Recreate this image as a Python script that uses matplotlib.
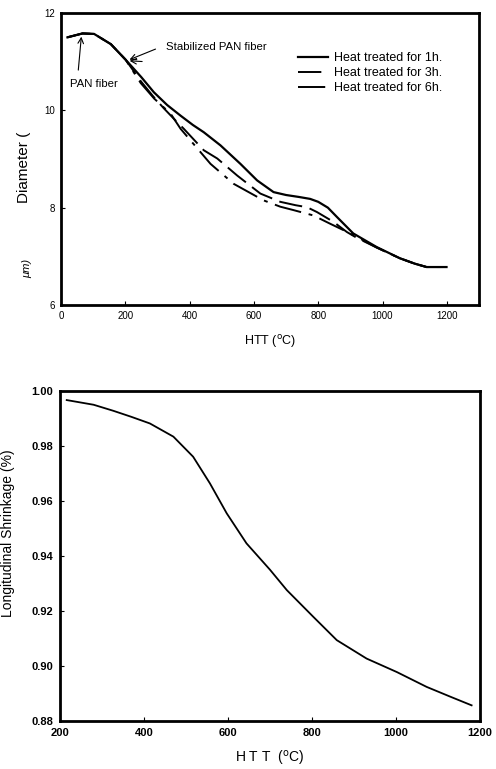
import numpy as np
import matplotlib
matplotlib.use("Agg")
import matplotlib.pyplot as plt

plt.rcParams['font.family'] = ['Liberation Sans', 'DejaVu Sans']
plt.rcParams['lines.solid_joinstyle'] = 'round'
plt.rcParams['lines.dash_joinstyle'] = 'round'

# --- top panel: fiber diameter vs HTT ---
htt_1h = [20, 67, 103, 155, 201, 250, 289, 330, 372, 410, 444, 496, 558, 610, 661, 700,
          740, 775, 800, 830, 858, 909, 982, 1054, 1100, 1137, 1199]
dia_1h = [11.50, 11.58, 11.57, 11.36, 11.04, 10.68, 10.37, 10.11, 9.89, 9.70, 9.55, 9.28,
          8.90, 8.56, 8.32, 8.26, 8.22, 8.18, 8.12, 8.00, 7.81, 7.47, 7.19, 6.96, 6.85, 6.78, 6.78]

htt_3h = [20, 67, 103, 155, 201, 248, 285, 320, 352, 382, 444, 486, 548, 620, 682, 730,
          765, 796, 847, 889, 920, 982, 1054, 1100, 1137, 1199]
dia_3h = [11.50, 11.58, 11.57, 11.36, 11.04, 10.60, 10.30, 10.04, 9.82, 9.62, 9.18, 9.01,
          8.66, 8.29, 8.12, 8.05, 8.01, 7.91, 7.71, 7.50, 7.38, 7.18, 6.96, 6.85, 6.78, 6.78]

htt_6h = [20, 67, 103, 155, 201, 248, 290, 341, 372, 403, 465, 537, 630, 682, 723, 785,
          837, 878, 920, 982, 1054, 1100, 1137, 1199]
dia_6h = [11.50, 11.58, 11.57, 11.36, 11.04, 10.56, 10.24, 9.93, 9.62, 9.38, 8.90, 8.49,
          8.15, 8.02, 7.95, 7.84, 7.67, 7.54, 7.40, 7.18, 6.96, 6.85, 6.78, 6.78]

legend_labels = ["Heat treated for 1h.", "Heat treated for 3h.", "Heat treated for 6h."]

# --- bottom panel: longitudinal shrinkage vs HTT ---
htt_s = [216, 280, 327, 370, 414, 470, 517, 557, 597, 644, 700, 740, 803, 859, 930, 1002,
         1073, 1130, 1180]
shrink = [0.9967, 0.9950, 0.9928, 0.9906, 0.9882, 0.9834, 0.9761, 0.9664, 0.9555, 0.9446,
          0.9350, 0.9276, 0.9179, 0.9094, 0.9027, 0.8978, 0.8924, 0.8888, 0.8857]

W, H = 496, 769
fig = plt.figure(figsize=(W / 100, H / 100), dpi=100)


def px_axes(l, t, r, b):
    return fig.add_axes([l / W, 1 - b / H, (r - l) / W, (b - t) / H])


ax1 = px_axes(61, 13, 479, 305)
ax1.plot(htt_1h, dia_1h, color='black', lw=1.6, ls='-', label=legend_labels[0])
ax1.plot(htt_3h, dia_3h, color='black', lw=1.4, ls=(0, (12, 4)), label=legend_labels[1])
ax1.plot(htt_6h, dia_6h, color='black', lw=1.4, ls=(0, (14, 4, 2, 4)), label=legend_labels[2])
ax1.set_xlim(0, 1300)
ax1.set_ylim(6, 12)
ax1.set_xticks([0, 200, 400, 600, 800, 1000, 1200])
ax1.set_yticks([6, 8, 10, 12])
ax1.tick_params(direction='in', labelsize=7, length=3, pad=4)
for s in ax1.spines.values():
    s.set_linewidth(2)
leg = ax1.legend(loc='upper left', bbox_to_anchor=(0.54, 0.905), frameon=False,
                 fontsize=9, handlelength=2.4, handletextpad=0.5, labelspacing=0.25)
ax1.set_xlabel("HTT ($^{\\mathrm{o}}$C)", fontsize=9, labelpad=9)

# arrows pointing at the stabilized fiber
ax1.annotate("", xy=(205, 11.02), xytext=(302, 11.28),
             arrowprops=dict(arrowstyle='->', lw=0.8, color='black'))
ax1.annotate("", xy=(205, 11.02), xytext=(261, 11.0),
             arrowprops=dict(arrowstyle='->', lw=0.8, color='black'))
ax1.text(327, 11.3, "Stabilized PAN fiber", fontsize=8.2, va='center', ha='left')
ax1.annotate("", xy=(64, 11.57), xytext=(53, 10.77),
             arrowprops=dict(arrowstyle='->', lw=0.8, color='black'))
ax1.text(28, 10.55, "PAN fiber", fontsize=8.2, va='center', ha='left')

fig.text(24 / W, 1 - 167 / H, "Diameter (", rotation=90, fontsize=11, ha='center', va='center')
fig.text(27 / W, 1 - 268 / H, "\u03bcm)", rotation=90, fontsize=8, ha='center', va='center',
         style='italic')

ax2 = px_axes(60, 391, 480, 721)
ax2.plot(htt_s, shrink, color='black', lw=1.3)
ax2.set_xlim(200, 1200)
ax2.set_ylim(0.88, 1.00)
ax2.set_xticks([200, 400, 600, 800, 1000, 1200])
ax2.set_yticks([0.88, 0.90, 0.92, 0.94, 0.96, 0.98, 1.00])
ax2.set_yticklabels(["0.88", "0.90", "0.92", "0.94", "0.96", "0.98", "1.00"])
ax2.tick_params(direction='in', labelsize=8, length=3, pad=5)
for lab in ax2.get_xticklabels() + ax2.get_yticklabels():
    lab.set_fontweight('bold')
for s in ax2.spines.values():
    s.set_linewidth(2)
ax2.set_xlabel("H T T  ($^{\\mathrm{o}}$C)", fontsize=10, labelpad=8)

fig.text(8 / W, 1 - 533 / H, "Longitudinal Shrinkage (%)", rotation=90, fontsize=10,
         ha='center', va='center')

fig.savefig("out.png", dpi=100)
